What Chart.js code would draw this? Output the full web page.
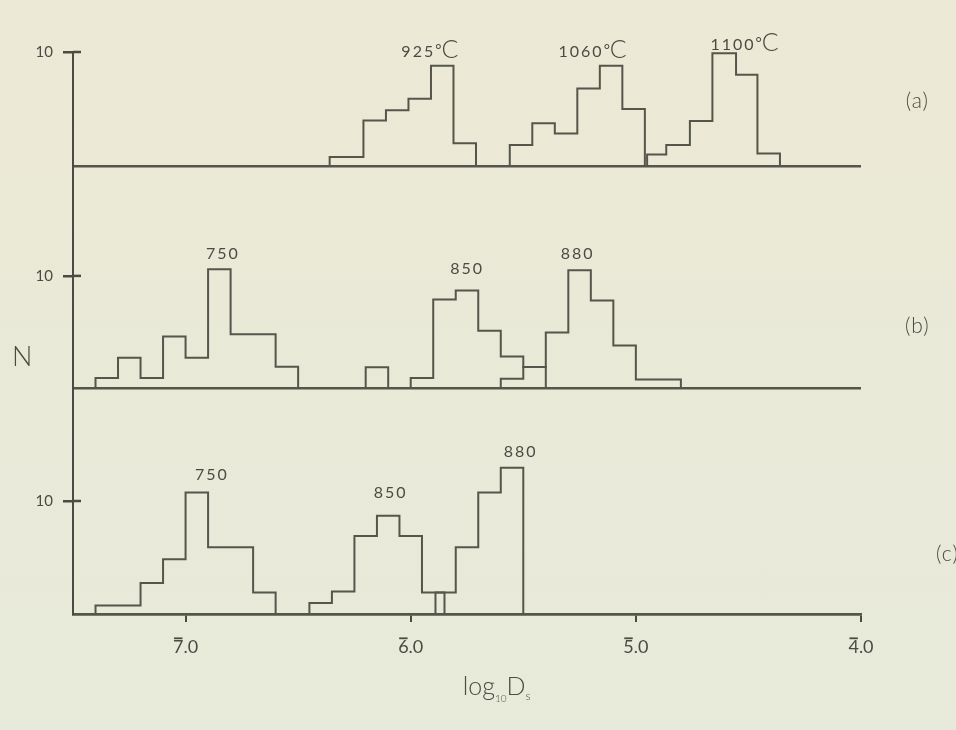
<!DOCTYPE html>
<html>
<head>
<meta charset="utf-8">
<script src="https://cdn.jsdelivr.net/npm/chart.js@4.4.0/dist/chart.umd.min.js"></script>
<style>
html, body { margin: 0; padding: 0; }
body {
  width: 956px; height: 730px; overflow: hidden;
  background: linear-gradient(180deg, #ece9d6 0%, #eae9d7 40%, #e7eada 100%);
}
canvas { display: block; }
</style>
</head>
<body>
<canvas id="myChart" width="956" height="730"></canvas>
<script>
// x is log10 Ds in bar notation (6.2 reads as 6-bar.2), axis runs 7.5 -> 4.0
const xTicks = [7.0, 6.0, 5.0, 4.0];
const yTicks = [0, 10];

// (a) anneal temperatures 925, 1060, 1100 C
const edgesA925   = [6.36, 6.21, 6.11, 6.01, 5.91, 5.81, 5.71];
const countsA925  = [0.8, 4.0, 4.9, 5.9, 8.8, 2.0];
const edgesA1060  = [5.56, 5.46, 5.36, 5.26, 5.16, 5.06, 4.96];
const countsA1060 = [1.85, 3.75, 2.85, 6.8, 8.8, 5.0];
const edgesA1100  = [4.95, 4.865, 4.76, 4.66, 4.555, 4.46, 4.36];
const countsA1100 = [1.0, 1.85, 3.95, 9.9, 8.0, 1.1];

// (b) 750, 850, 880
const edgesB750  = [7.4, 7.3, 7.2, 7.1, 7.0, 6.9, 6.8, 6.7, 6.6, 6.5];
const countsB750 = [0.9, 2.7, 0.9, 4.6, 2.7, 10.6, 4.8, 4.8, 1.9];
const edgesB850  = [6.2, 6.1, 6.0, 5.9, 5.8, 5.7, 5.6, 5.5, 5.4];
const countsB850 = [1.85, 0, 0.9, 7.9, 8.7, 5.1, 2.8, 1.87];
const edgesB880  = [5.6, 5.5, 5.4, 5.3, 5.2, 5.1, 5.0, 4.9, 4.8];
const countsB880 = [0.83, 1.87, 4.95, 10.5, 7.8, 3.8, 0.75, 0.75];

// (c) 750, 850, 880
const edgesC750  = [7.4, 7.3, 7.2, 7.1, 7.0, 6.9, 6.8, 6.7, 6.6];
const countsC750 = [0.75, 0.75, 2.75, 4.85, 10.75, 5.9, 5.9, 1.9];
const edgesC850  = [6.45, 6.35, 6.25, 6.15, 6.05, 5.95, 5.85];
const countsC850 = [0.97, 2.0, 6.9, 8.7, 6.9, 1.9];
const edgesC880  = [5.89, 5.8, 5.7, 5.6, 5.5];
const countsC880 = [1.9, 5.9, 10.75, 12.95];

const tempLabels = [
  { text: '925', unit: true, x: 5.915, y: 9.56, axis: 'yA' },
  { text: '1060', unit: true, x: 5.192, y: 9.56, axis: 'yA' },
  { text: '1100', unit: true, x: 4.517, y: 10.18, axis: 'yA' },
  { text: '750', x: 6.834, y: 11.5, axis: 'yB' },
  { text: '850', x: 5.749, y: 10.18, axis: 'yB' },
  { text: '880', x: 5.259, y: 11.5, axis: 'yB' },
  { text: '750', x: 6.883, y: 11.83, axis: 'yC' },
  { text: '850', x: 6.089, y: 10.24, axis: 'yC' },
  { text: '880', x: 5.512, y: 13.87, axis: 'yC' }
];
const panelLabels = [
  { text: '(a)', x: 3.75, y: 5.09, axis: 'yA' },
  { text: '(b)', x: 3.75, y: 4.93, axis: 'yB' },
  { text: '(c)', x: 3.616, y: 4.66, axis: 'yC' }
];

const ink = '#4b4b43';
const lineInk = '#55554b';
const face = 'Lato, "Open Sans", sans-serif';

function histPoints(edges, counts) {
  const pts = [{ x: edges[0], y: 0 }];
  counts.forEach((c, i) => pts.push({ x: edges[i], y: c }));
  pts.push({ x: edges[edges.length - 1], y: 0 });
  return pts;
}

// 'before' draws the horizontal run at the previous count, then the riser
function hist(edges, counts, axis) {
  return {
    data: histPoints(edges, counts),
    yAxisID: axis,
    stepped: 'before',
    borderColor: lineInk,
    borderWidth: 2,
    pointRadius: 0,
    fill: false
  };
}

function panelAxis(max, weight) {
  return {
    type: 'linear',
    position: 'left',
    stack: 'panels',
    stackWeight: weight,
    min: 0,
    max: max,
    afterBuildTicks: s => { s.ticks = yTicks.map(v => ({ value: v })); },
    afterFit: s => { s.width = 73; },
    ticks: {
      callback: v => (v === 10 ? '10' : ''),
      color: ink,
      font: { family: face, size: 15, weight: 400 },
      padding: 10
    },
    grid: {
      color: c => (c.tick && c.tick.value === 0 ? lineInk : 'rgba(0,0,0,0)'),
      tickColor: c => (c.tick && c.tick.value === 10 ? ink : 'rgba(0,0,0,0)'),
      lineWidth: 2.5,
      tickLength: 10
    },
    border: { color: ink, width: 2 }
  };
}

function drawRuns(ctx, runs, cx, by) {
  let total = 0;
  runs.forEach(r => {
    ctx.font = r.font;
    ctx.letterSpacing = r.spacing || '0px';
    r.w = ctx.measureText(r.t).width;
    total += r.w;
  });
  let x = cx - total / 2;
  runs.forEach(r => {
    ctx.font = r.font;
    ctx.letterSpacing = r.spacing || '0px';
    ctx.fillText(r.t, x, by + (r.dy || 0));
    x += r.w;
  });
  ctx.letterSpacing = '0px';
}

const annotations = {
  id: 'annotations',
  afterDraw(chart) {
    const { ctx, scales, chartArea } = chart;
    const sx = scales.x;
    ctx.save();
    ctx.fillStyle = ink;
    ctx.strokeStyle = ink;
    ctx.textAlign = 'left';
    ctx.textBaseline = 'alphabetic';

    // inner half of the "10" ticks
    ctx.lineWidth = 2.5;
    ['yA', 'yB', 'yC'].forEach(id => {
      const y = scales[id].getPixelForValue(10);
      ctx.beginPath();
      ctx.moveTo(chartArea.left, y);
      ctx.lineTo(chartArea.left + 8, y);
      ctx.stroke();
    });

    // bars over the characteristic of each x tick label
    ctx.font = '400 18px ' + face;
    ctx.lineWidth = 1.8;
    sx.ticks.forEach(t => {
      const label = t.value.toFixed(1);
      const w = ctx.measureText(label).width;
      const w1 = ctx.measureText(label[0]).width;
      const x0 = sx.getPixelForValue(t.value) - w / 2;
      const y = chartArea.bottom + 8 + 14 + 10.8 - 8.5;
      ctx.beginPath();
      ctx.moveTo(x0 + 1, y);
      ctx.lineTo(x0 + w1 - 1, y);
      ctx.stroke();
    });

    // temperatures
    tempLabels.forEach(l => {
      const cx = sx.getPixelForValue(l.x);
      const by = scales[l.axis].getPixelForValue(l.y);
      const runs = [{ t: l.text, font: '400 16px ' + face, spacing: '2px' }];
      if (l.unit) {
        runs.push({ t: '°', font: '400 15px ' + face, dy: -2 });
        runs.push({ t: 'C', font: '300 25px ' + face, dy: 1 });
      }
      drawRuns(ctx, runs, cx, by);
    });

    // panel letters
    panelLabels.forEach(l => {
      drawRuns(ctx, [{ t: l.text, font: '300 21px ' + face, spacing: '1px' }],
        sx.getPixelForValue(l.x), scales[l.axis].getPixelForValue(l.y));
    });

    // N
    drawRuns(ctx, [{ t: 'N', font: '300 27px ' + face }],
      sx.getPixelForValue(7.726), scales.yB.getPixelForValue(1.99));

    // log10 Ds
    drawRuns(ctx, [
      { t: 'log', font: '300 25px ' + face },
      { t: '10', font: '300 10px ' + face, dy: 7 },
      { t: 'D', font: '300 25px ' + face },
      { t: 's', font: '300 12px ' + face, dy: 5 }
    ], sx.getPixelForValue(5.618), chartArea.bottom + 81);

    ctx.restore();
  }
};

new Chart(document.getElementById('myChart').getContext('2d'), {
  type: 'line',
  data: {
    datasets: [
      hist(edgesA925, countsA925, 'yA'),
      hist(edgesA1060, countsA1060, 'yA'),
      hist(edgesA1100, countsA1100, 'yA'),
      hist(edgesB750, countsB750, 'yB'),
      hist(edgesB850, countsB850, 'yB'),
      hist(edgesB880, countsB880, 'yB'),
      hist(edgesC750, countsC750, 'yC'),
      hist(edgesC850, countsC850, 'yC'),
      hist(edgesC880, countsC880, 'yC')
    ]
  },
  options: {
    responsive: false,
    animation: false,
    layout: { padding: { top: 52, right: 95, left: 0, bottom: 0 } },
    plugins: { legend: { display: false }, tooltip: { enabled: false } },
    scales: {
      x: {
        type: 'linear',
        position: 'bottom',
        min: 4.0,
        max: 7.5,
        reverse: true,
        afterBuildTicks: s => { s.ticks = xTicks.map(v => ({ value: v })); },
        afterFit: s => { s.height = 116; },
        ticks: {
          callback: v => v.toFixed(1),
          color: ink,
          font: { family: face, size: 18, weight: 400 },
          padding: 14,
          maxRotation: 0,
          autoSkip: false
        },
        grid: { drawOnChartArea: false, color: ink, lineWidth: 2, tickLength: 8 },
        border: { color: lineInk, width: 2.5 }
      },
      yC: panelAxis(20.0, 226),
      yB: panelAxis(19.8, 222),
      yA: panelAxis(10, 114)
    }
  },
  plugins: [annotations]
});
</script>
</body>
</html>
